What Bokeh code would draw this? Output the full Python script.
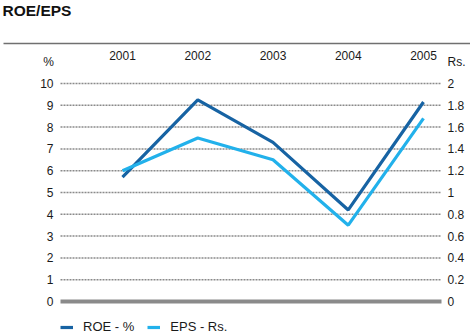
import numpy as np
from bokeh.plotting import figure
from bokeh.models import Range1d, Legend, LegendItem
from bokeh.core.properties import value
from bokeh.embed import file_html
from bokeh.resources import INLINE

# ---- data ----
years = ["2001", "2002", "2003", "2004", "2005"]
roe = [5.7, 9.25, 7.3, 4.2, 9.15]          # ROE - %
eps = [1.2, 1.5, 1.3, 0.7, 1.68]           # EPS - Rs.
left_ticks = [0, 1, 2, 3, 4, 5, 6, 7, 8, 9, 10]
left_labels = ["0", "1", "2", "3", "4", "5", "6", "7", "8", "9", "10"]
right_ticks = [0, 0.2, 0.4, 0.6, 0.8, 1.0, 1.2, 1.4, 1.6, 1.8, 2.0]
right_labels = ["0", "0.2", "0.4", "0.6", "0.8", "1", "1.2", "1.4", "1.6", "1.8", "2"]
title_text = "ROE/EPS"
left_unit = "%"
right_unit = "Rs."
series_names = ["ROE - %", "EPS - Rs."]

# ---- layout (pixels) ----
W, H = 470, 336
X0, DX = 122.0, 75.25      # pixel of first category, spacing
Y0, DY = 301.0, 21.8       # pixel of zero, pixels per unit (left scale)
GX0, GX1 = 60, 441         # grid extent
FONT = "Liberation Sans"
ROE_COL = "#1763a3"
EPS_COL = "#22b1eb"
GRID_COL = "#8a8a8a"
TXT = "#1a1a1a"

def px_x(px):
    return (px - X0) / DX

def px_y(py):
    return (Y0 - py) / DY

ratio = right_ticks[-1] / left_ticks[-1]

p = figure(width=W, height=H, output_backend="svg", toolbar_location=None,
           x_range=Range1d(px_x(0), px_x(W)), y_range=Range1d(px_y(H), px_y(0)),
           x_axis_location=None, y_axis_location=None, min_border=0,
           outline_line_color=None, background_fill_color="white",
           border_fill_color="white")
p.grid.visible = False
p.extra_y_ranges = {"eps": Range1d(px_y(H) * ratio, px_y(0) * ratio)}

idx = np.arange(len(years))

# top rule
p.segment(x0=[px_x(3)], x1=[px_x(W)], y0=[px_y(43)], y1=[px_y(43)],
          line_color="#707070", line_width=1.6)

# title
p.text(x=[px_x(2)], y=[px_y(10)], text=[title_text], text_font=value(FONT),
       text_font_style="bold", text_font_size="15.5px", text_color="#111111",
       text_align="left", text_baseline="middle")

# dotted grid lines
gt = left_ticks[1:]
p.segment(x0=[px_x(GX0)] * len(gt), x1=[px_x(GX1)] * len(gt), y0=gt, y1=gt,
          line_color=GRID_COL, line_width=1.5, line_dash="2 1")
# zero baseline
p.segment(x0=[px_x(GX0)], x1=[px_x(GX1)], y0=[left_ticks[0]], y1=[left_ticks[0]],
          line_color="#8a8a8a", line_width=4)

# tick labels left
p.text(x=[px_x(53)] * len(left_ticks), y=left_ticks, text=left_labels,
       text_font=value(FONT), text_font_size="12px", text_color=TXT,
       text_align="right", text_baseline="middle")
# tick labels right
p.text(x=[px_x(447)] * len(right_ticks), y=right_ticks, text=right_labels,
       text_font=value(FONT), text_font_size="12px", text_color=TXT,
       text_align="left", text_baseline="middle", y_range_name="eps")
# unit labels
p.text(x=[px_x(48)], y=[px_y(61)], text=[left_unit], text_font=value(FONT),
       text_font_size="12px", text_color=TXT, text_align="center", text_baseline="middle")
p.text(x=[px_x(447)], y=[px_y(61)], text=[right_unit], text_font=value(FONT),
       text_font_size="12px", text_color=TXT, text_align="left", text_baseline="middle")
# year labels
p.text(x=idx, y=[px_y(55)] * len(years), text=years, text_font=value(FONT),
       text_font_size="12px", text_color=TXT, text_align="center", text_baseline="middle")

# series
r1 = p.line(idx, roe, line_color=ROE_COL, line_width=3.2)
r2 = p.line(idx, eps, line_color=EPS_COL, line_width=3.2, y_range_name="eps")

legend = Legend(items=[LegendItem(label=series_names[0], renderers=[r1]),
                       LegendItem(label=series_names[1], renderers=[r2])],
                orientation="horizontal", location=(60, 2),
                glyph_width=13, glyph_height=14, label_standoff=10, spacing=13,
                padding=0, margin=0, border_line_color=None,
                background_fill_alpha=0, label_text_font=FONT,
                label_text_font_size="13px", label_text_color=TXT,
                label_height=14)
p.add_layout(legend)

open("out.html", "w").write(file_html(p, INLINE))
